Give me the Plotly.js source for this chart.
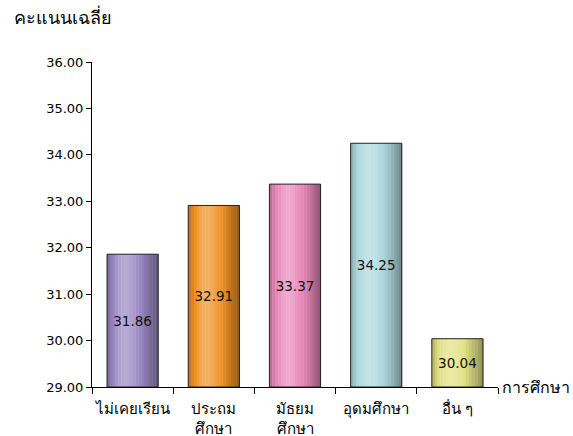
<!DOCTYPE html>
<html><head><meta charset="utf-8">
<script src="https://cdn.plot.ly/plotly-3.0.1.min.js"></script>
<style>body{margin:0;background:#fff}#c{width:573px;height:436px}</style>
</head><body><div id="c"></div>
<script>
const categories = ['ไม่เคยเรียน', 'ประถม<br>ศึกษา', 'มัธยม<br>ศึกษา', 'อุดมศึกษา', 'อื่น ๆ'];
const values = [31.86, 32.91, 33.37, 34.25, 30.04];
const baseColors = [[155,135,195],[240,145,35],[232,135,185],[170,215,220],[225,225,130]];
const yTitle = 'คะแนนเฉลี่ย';
const xTitle = 'การศึกษา';
const BASE = 29;

const FONT = 'DejaVu Sans, Tahoma, sans-serif';
const W = 0.63, N = 18;
function shade(c, t){
  let f;
  if (t < 0.38) f = 0.78 + (1.18-0.78)*Math.sin((t/0.38)*Math.PI/2);
  else f = 1.18 - (1.18-0.62)*Math.pow((t-0.38)/0.62, 1.3);
  return 'rgb(' + c.map(v => {
    let r = f > 1 ? v + (255 - v)*(f-1)*1.6 : v*f;
    return Math.max(0, Math.min(255, Math.round(r)));
  }).join(',') + ')';
}
const heights = values.map(v => v - BASE);
const traces = [];
for (let i = 0; i < N; i++) {
  const t = (i + 0.5) / N;
  traces.push({
    type: 'bar', x: categories, y: heights, base: values.map(() => BASE),
    width: W / N + 0.004, offset: -W/2 + i*W/N,
    marker: {color: baseColors.map(c => shade(c, t)), line: {width: 0}},
    hoverinfo: 'skip', showlegend: false
  });
}
traces.push({
  type: 'bar', x: categories, y: heights, base: values.map(() => BASE),
  width: W, offset: -W/2,
  marker: {color: 'rgba(0,0,0,0)', line: {color: '#222', width: 1}},
  text: values.map(v => v.toFixed(2)), textposition: 'inside', insidetextanchor: 'middle',
  textfont: {family: FONT, size: 13.5, color: '#111'}, showlegend: false
});
const layout = {
  width: 573, height: 436, barmode: 'overlay',
  margin: {l: 92, r: 75, t: 62, b: 49},
  paper_bgcolor: '#fff', plot_bgcolor: '#fff',
  font: {family: FONT, size: 13, color: '#000'},
  xaxis: {type: 'category', range: [-0.5, 4.5], showline: true, linecolor: '#000', linewidth: 1,
    ticks: 'outside', tickson: 'boundaries', ticklen: 6, tickcolor: '#000', ticklabelstandoff: 8,
    tickangle: 0, automargin: false,
    tickfont: {family: FONT, size: 15, color: '#000'}, showgrid: false, zeroline: false, fixedrange: true},
  yaxis: {range: [29, 36], dtick: 1, tick0: 29, tickformat: '.2f', showline: true, linecolor: '#000',
    ticks: 'outside', ticklen: 5, tickcolor: '#000', showgrid: false, zeroline: false,
    tickfont: {family: FONT, size: 13, color: '#000'}},
  annotations: [
    {text: yTitle, xref: 'paper', yref: 'paper', x: -0.196, y: 1.098, xanchor: 'left', yanchor: 'bottom',
     showarrow: false, font: {family: FONT, size: 18, color: '#000'}},
    {text: xTitle, xref: 'paper', yref: 'paper', x: 1.005, y: 0, xanchor: 'left', yanchor: 'middle',
     showarrow: false, font: {family: FONT, size: 16, color: '#000'}}
  ]
};
Plotly.newPlot('c', traces, layout, {displayModeBar: false, staticPlot: true});
</script></body></html>
